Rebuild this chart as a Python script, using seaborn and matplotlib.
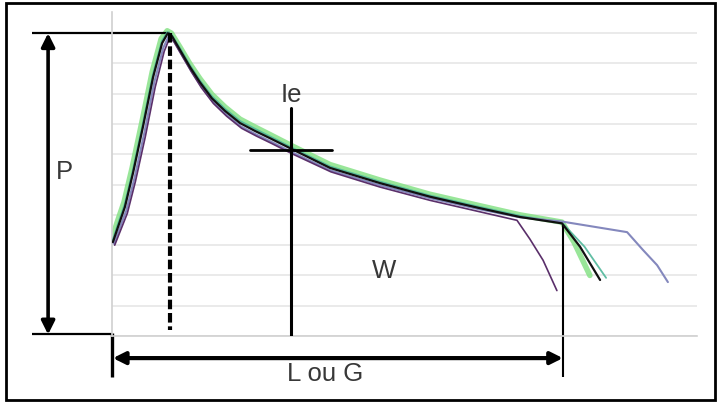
import matplotlib
matplotlib.use("Agg")
import matplotlib.pyplot as plt
from matplotlib.patches import Rectangle
from matplotlib.ticker import MultipleLocator
import seaborn as sns
import pandas as pd

# ---- data (x in arbitrary length units, y in grid units) ----
x_black = [0.3, 2.0, 4.3, 7.0, 10.3, 13.7, 16.7, 18.6, 20.0, 22.7, 26.0, 29.3, 33.3, 37.7, 42.7, 47.7, 52.7, 60.0, 72.7, 89.3, 106.0, 122.7, 136.0, 150.0, 156.0, 162.7]
y_black = [3.10, 3.60, 4.26, 5.38, 6.90, 8.55, 9.67, 10.0, 9.90, 9.44, 8.88, 8.38, 7.85, 7.43, 7.03, 6.77, 6.53, 6.17, 5.55, 5.05, 4.60, 4.22, 3.93, 3.72, 2.95, 1.85]

x_green = [0.0, 1.7, 4.0, 6.7, 10.0, 13.4, 16.4, 18.4, 19.8, 22.6, 25.9, 29.3, 33.3, 37.7, 42.7, 47.7, 52.7, 60.0, 72.7, 89.3, 106.0, 122.7, 136.0, 150.0, 154.0, 159.3]
y_green = [3.22, 3.75, 4.42, 5.55, 7.08, 8.72, 9.82, 10.08, 10.0, 9.55, 9.00, 8.50, 7.98, 7.56, 7.16, 6.90, 6.65, 6.28, 5.66, 5.15, 4.68, 4.30, 4.00, 3.76, 3.10, 2.00]

x_teal = [0.2, 1.9, 4.2, 6.9, 10.2, 13.6, 16.6, 18.5, 19.9, 22.7, 26.0, 29.3, 33.3, 37.7, 42.7, 47.7, 52.7, 60.0, 72.7, 89.3, 106.0, 122.7, 136.0, 150.0, 157.5, 164.7]
y_teal = [3.15, 3.68, 4.34, 5.46, 6.98, 8.63, 9.74, 10.04, 9.95, 9.50, 8.94, 8.44, 7.92, 7.50, 7.10, 6.84, 6.59, 6.22, 5.60, 5.10, 4.64, 4.26, 3.97, 3.74, 2.95, 1.92]

x_blue = [0.6, 2.4, 4.8, 7.5, 10.8, 14.1, 17.1, 18.9, 20.3, 23.0, 26.3, 29.6, 33.6, 38.0, 43.0, 48.0, 53.0, 60.0, 72.8, 89.3, 106.0, 122.7, 136.0, 150.0, 171.7, 177.0, 181.7, 185.3]
y_blue = [3.05, 3.52, 4.15, 5.22, 6.72, 8.38, 9.52, 9.90, 9.80, 9.34, 8.78, 8.27, 7.74, 7.32, 6.92, 6.66, 6.42, 6.07, 5.47, 4.98, 4.55, 4.18, 3.92, 3.78, 3.43, 2.84, 2.34, 1.78]

x_purple = [0.9, 2.7, 5.1, 7.8, 11.1, 14.4, 17.4, 19.1, 20.5, 23.2, 26.5, 29.8, 33.8, 38.2, 43.2, 48.2, 53.2, 60.0, 73.0, 89.3, 106.0, 122.7, 135.0, 139.3, 143.7, 148.3]
y_purple = [3.00, 3.45, 4.05, 5.10, 6.58, 8.22, 9.40, 9.82, 9.74, 9.28, 8.72, 8.20, 7.68, 7.26, 6.86, 6.60, 6.36, 6.02, 5.42, 4.92, 4.48, 4.10, 3.82, 3.20, 2.50, 1.50]

# annotation values
P_value = 10.0
peak_x = 19.3
ie_x = 59.7
ie_y = 6.14
L_value = 150.3
labels = {"P": "P", "Ie": "Ie", "W": "W", "L": "L ou G"}

sns.set_style("white")
plt.rcParams["font.family"] = ["Liberation Sans", "DejaVu Sans"]

W, H = 717, 403
fig = plt.figure(figsize=(W / 100, H / 100), dpi=100)
ax = fig.add_axes([112 / W, (H - 336) / H, (697 - 112) / W, (336 - 12) / H])
ax.set_xlim(0, 195)
ax.set_ylim(0, 10.7)

# grid & axes
ax.yaxis.set_major_locator(MultipleLocator(1))
ax.xaxis.set_major_locator(MultipleLocator(15))
ax.xaxis.set_minor_locator(MultipleLocator(5))
ax.grid(axis="y", color="#e8e8e8", lw=1.3)
ax.set_axisbelow(True)
ax.tick_params(axis="y", length=5, color="#dadada", labelleft=False, direction="out")
ax.tick_params(axis="x", which="major", length=4, color="#c8c8c8", labelbottom=False, direction="inout")
ax.tick_params(axis="x", which="minor", length=2, color="#d5d5d5", direction="inout")
for s in ["top", "right"]:
    ax.spines[s].set_visible(False)
for s in ["left", "bottom"]:
    ax.spines[s].set_color("#d0d0d0")
    ax.spines[s].set_linewidth(1.2)

def curve(x, y, color, lw, alpha=1.0, z=3):
    df = pd.DataFrame({"x": x, "y": y})
    sns.lineplot(data=df, x="x", y="y", sort=False, estimator=None, color=color,
                 lw=lw, alpha=alpha, ax=ax, zorder=z)

curve(x_green, y_green, "#80e080", 4.0, 0.8, 2)
curve(x_teal, y_teal, "#4fb79a", 1.3, 0.9, 3)
curve(x_blue, y_blue, "#8488bd", 1.5, 1.0, 3)
curve(x_purple, y_purple, "#5a2f6a", 1.2, 1.0, 4)
curve(x_black, y_black, "#111111", 1.6, 1.0, 5)
ax.set_xlabel("")
ax.set_ylabel("")

lk = dict(color="black", clip_on=False, solid_capstyle="butt")
tk = dict(fontsize=18.5, color="#383838", ha="center", va="center")
# P annotation
ax.plot([-26.7, peak_x], [P_value, P_value], lw=1.6, **lk)
ax.plot([-26.7, 0], [0.05, 0.05], lw=1.6, **lk)
ax.annotate("", xy=(-21.3, P_value), xytext=(-21.3, 0.05), annotation_clip=False,
            arrowprops=dict(arrowstyle="<|-|>", lw=2.6, color="black",
                            mutation_scale=20, shrinkA=0, shrinkB=0))
ax.text(-15.7, 5.4, labels["P"], **tk)

# dashed peak line
ax.plot([peak_x, peak_x], [P_value, 0.2], lw=3, dashes=(2.3, 0.9), color="black", zorder=6)

# Ie cross
ax.plot([ie_x, ie_x], [7.52, 0.0], lw=2.2, color="black", zorder=6)
ax.plot([46.0, 73.3], [ie_y, ie_y], lw=2.0, color="black", zorder=6)
ax.text(ie_x, 7.95, labels["Ie"], **tk)

# W
ax.text(90.7, 2.15, labels["W"], **tk)

# L ou G
ax.plot([0, 0], [0.1, -1.35], lw=2.4, **lk)
ax.plot([L_value, L_value], [3.66, -1.35], lw=1.5, **lk)
ax.annotate("", xy=(L_value, -0.73), xytext=(0.3, -0.73), annotation_clip=False,
            arrowprops=dict(arrowstyle="<|-|>", lw=3, color="black",
                            mutation_scale=18, shrinkA=0, shrinkB=0))
ax.text(71.0, -1.25, labels["L"], **tk)

# outer frame
fig.patches.append(Rectangle((6 / W, 3 / H), (715 - 6) / W, (400 - 3) / H,
                             transform=fig.transFigure, fill=False, lw=2, ec="black"))

fig.savefig("out.png", dpi=100)
